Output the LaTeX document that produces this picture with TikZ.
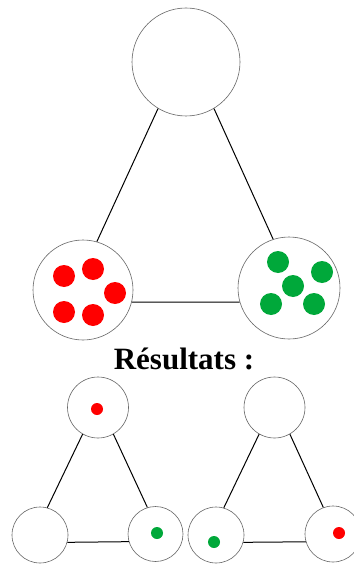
\documentclass[tikz,border=0pt]{standalone}
\usepackage{fontspec}
\setmainfont{Liberation Serif}
\usepackage{tikz}
\definecolor{dotgreen}{RGB}{0,168,58}
\definecolor{dotred}{RGB}{255,0,0}

\begin{document}
\begin{tikzpicture}[x=1pt,y=-1pt,
        cell/.style={circle,draw=black!60,line width=0.6pt,inner sep=0pt,fill=white},
        edge/.style={draw=black,line width=1pt}]
        \useasboundingbox (0,0) rectangle (353,564);
        % grand triangle
        \node[cell,minimum size=108pt] (top) at (186,62) {};
        \node[cell,minimum size=100pt] (left) at (83,290) {};
        \node[cell,minimum size=102pt] (right) at (289,288) {};
        \draw[edge] (top.239) -- (left.74);
        \draw[edge] (top.301) -- (right.108);
        \draw[edge] (left.346) -- (right.196);
        % jetons
        \fill[dotred] (64,276) circle (11pt);
        \fill[dotred] (93,269) circle (11pt);
        \fill[dotred] (115,293) circle (11pt);
        \fill[dotred] (64,312) circle (11pt);
        \fill[dotred] (93,315) circle (11pt);
        \fill[dotgreen] (278,262) circle (11pt);
        \fill[dotgreen] (322,272) circle (11pt);
        \fill[dotgreen] (293,286) circle (11pt);
        \fill[dotgreen] (271,304) circle (11pt);
        \fill[dotgreen] (314,304) circle (11pt);
        \node[font=\fontsize{31}{31}\selectfont\bfseries,anchor=base] (res) at (184,369) {Résultats :};
        % petits triangles
        \node[cell,minimum size=61pt] (topA) at (98,407.5) {};
        \node[cell,minimum size=56pt] (leftA) at (40,535) {};
        \node[cell,minimum size=55pt] (rightA) at (155.5,534) {};
        \draw[edge] (topA.240) -- (leftA.75);
        \draw[edge] (topA.300) -- (rightA.107);
        \draw[edge] (leftA.345) -- (rightA.196);
        \node[cell,minimum size=61pt] (topB) at (274.5,407.5) {};
        \node[cell,minimum size=56pt] (leftB) at (216,535) {};
        \node[cell,minimum size=56pt] (rightB) at (333,534) {};
        \draw[edge] (topB.240) -- (leftB.74);
        \draw[edge] (topB.300) -- (rightB.110);
        \draw[edge] (leftB.345) -- (rightB.196);
        \fill[dotred] (97,409) circle (6pt);
        \fill[dotgreen] (157,533) circle (6pt);
        \fill[dotgreen] (214,542) circle (6pt);
        \fill[dotred] (339,533) circle (6pt);
\end{tikzpicture}
\end{document}
